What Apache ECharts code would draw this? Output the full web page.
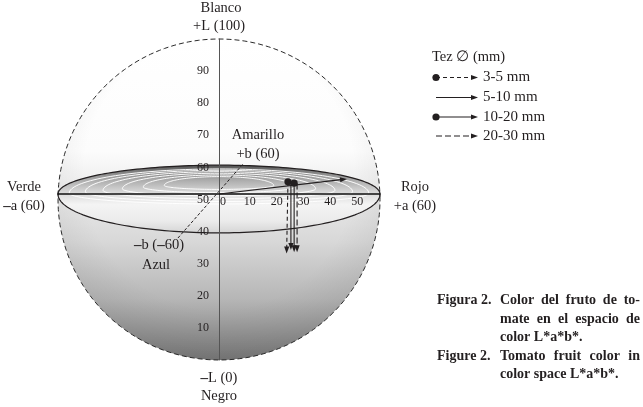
<!DOCTYPE html>
<html>
<head>
<meta charset="utf-8">
<script src="https://cdn.jsdelivr.net/npm/echarts@6/dist/echarts.min.js"></script>
<style>
html, body { margin: 0; padding: 0; background: #fff; }
#chart { width: 643px; height: 407px; }
</style>
</head>
<body>
<div id="chart"></div>
<script>
// tick labels: L* on the vertical axis, a* along the equator
const lTicks = [10, 20, 30, 40, 50, 60, 70, 80, 90];
const aTicks = [0, 10, 20, 30, 40, 50];

// fruit size classes (Tez diameter) and their colour shift, [a*, L*]
const sizeClasses = ['3-5 mm', '5-10 mm', '10-20 mm', '20-30 mm'];
const arrowStart = [[25.7, 55.5], [26.8, 55.2], [28.0, 55.1], [29.1, 55.0]];
const arrowEnd = [[25.2, 33.2], [26.8, 34.3], [28.0, 33.6], [29.1, 33.6]];
// hue arrow in the a*b* plane
const hueArrow = [[0, 51.7], [47.7, 56.4]];

const INK = '#231f20';
const SERIF = '"Liberation Serif", "DejaVu Serif", serif';

// sphere drawn in data units
const SPHERE = { a: 60, lMid: 50, lHalf: 50 };
const EQUATOR = { l: 51.7, back: 9, front: 12.1 };
const B_AXIS = [[-15.3, 38.0], [9.3, 61.4]];

const GRID_W = 322;

const classStyle = [
    { dash: [4, 3], dot: true },
    { dash: null, dot: false },
    { dash: null, dot: true },
    { dash: [6, 3], dot: false }
];

function ringPoints(cx, cy, rx, ryBack, ryFront, n) {
    const pts = [];
    for (let i = 0; i < n; i++) {
        const t = i / n * Math.PI * 2;
        const s = Math.sin(t);
        pts.push([cx + rx * Math.cos(t), cy - s * (s > 0 ? ryBack : ryFront)]);
    }
    return pts;
}

function arrowShapes(x1, y1, x2, y2, st) {
    const dx = x2 - x1, dy = y2 - y1;
    const len = Math.sqrt(dx * dx + dy * dy);
    const ux = dx / len, uy = dy / len;
    const hl = 7, hw = 2.6;
    const bx = x2 - ux * hl, by = y2 - uy * hl;
    const lineStyle = { stroke: INK, lineWidth: 1.1 };
    if (st.dash) lineStyle.lineDash = st.dash;
    const kids = [
        { type: 'line', shape: { x1: x1, y1: y1, x2: bx + ux, y2: by + uy }, style: lineStyle },
        { type: 'polygon', shape: { points: [[x2, y2], [bx - uy * hw, by + ux * hw], [bx + uy * hw, by - ux * hw]] }, style: { fill: INK } }
    ];
    if (st.dot) kids.push({ type: 'circle', shape: { cx: x1, cy: y1, r: 3.6 }, style: { fill: INK } });
    return kids;
}

function renderSphere(params, api) {
    const c = api.coord([0, SPHERE.lMid]);
    const rx = api.size([SPHERE.a, 0])[0];
    const ry = api.size([0, SPHERE.lHalf])[1];
    const outline = ringPoints(c[0], c[1], rx, ry, ry, 200);
    const e = api.coord([0, EQUATOR.l]);
    const back = api.size([0, EQUATOR.back])[1];
    const front = api.size([0, EQUATOR.front])[1];
    const disc = ringPoints(e[0], e[1], rx, back, front, 200);
    const b0 = api.coord(B_AXIS[0]);
    const b1 = api.coord(B_AXIS[1]);

    const rings = [0.93, 0.83, 0.72, 0.6, 0.47, 0.34].map(function (s) {
        return {
            type: 'polygon',
            shape: { points: ringPoints(e[0], e[1] - back * (1 - s) * 0.45, rx * s, back * s * 0.9, front * s * 0.3, 140) },
            style: { fill: 'none', stroke: 'rgba(255,255,255,0.95)', lineWidth: 1 }
        };
    });

    return {
        type: 'group',
        children: [
            {
                type: 'polygon', shape: { points: outline },
                style: {
                    fill: new echarts.graphic.LinearGradient(0, 0, 0, 1, [
                        { offset: 0, color: '#ffffff' },
                        { offset: 0.35, color: '#fcfcfc' },
                        { offset: 0.48, color: '#eaeaea' },
                        { offset: 0.63, color: '#d8d8d8' },
                        { offset: 0.81, color: '#b6b6b6' },
                        { offset: 1, color: '#7a7a7a' }
                    ])
                }
            },
            {
                type: 'polygon', shape: { points: outline },
                style: {
                    fill: new echarts.graphic.RadialGradient(0.5, 0.42, 0.6, [
                        { offset: 0, color: 'rgba(0,0,0,0)' },
                        { offset: 0.7, color: 'rgba(0,0,0,0)' },
                        { offset: 1, color: 'rgba(0,0,0,0.08)' }
                    ])
                }
            },
            {
                type: 'polygon', shape: { points: disc },
                style: {
                    fill: new echarts.graphic.LinearGradient(0, 0, 0, 1, [
                        { offset: 0, color: '#474747' },
                        { offset: 0.08, color: '#777777' },
                        { offset: 0.22, color: '#aaaaaa' },
                        { offset: 0.4, color: '#d8d8d8' },
                        { offset: 0.58, color: '#f4f4f4' },
                        { offset: 0.82, color: '#ebebeb' },
                        { offset: 1, color: '#d4d4d4' }
                    ]),
                    stroke: INK, lineWidth: 1.2
                }
            }
        ].concat(rings).concat([
            { type: 'line', shape: { x1: b0[0], y1: b0[1], x2: b1[0], y2: b1[1] }, style: { stroke: INK, lineWidth: 1, lineDash: [3, 2] } },
            { type: 'polygon', shape: { points: outline }, style: { fill: 'none', stroke: '#2a2a2a', lineWidth: 1, lineDash: [5, 3] } }
        ])
    };
}

function renderArrow(params, api) {
    const p0 = api.coord([api.value(0), api.value(1)]);
    const p1 = api.coord([api.value(2), api.value(3)]);
    const st = params.dataIndex < classStyle.length ? classStyle[params.dataIndex] : { dash: null, dot: false };
    return { type: 'group', children: arrowShapes(p0[0], p0[1], p1[0], p1[1], st) };
}

const arrowData = sizeClasses.map(function (name, i) {
    return { name: name, value: [arrowStart[i][0], arrowStart[i][1], arrowEnd[i][0], arrowEnd[i][1]] };
});
arrowData.push({ name: 'hue', value: [hueArrow[0][0], hueArrow[0][1], hueArrow[1][0], hueArrow[1][1]] });

// text around the sphere (bold dash for the minus signs, as printed)
const richMinus = { m: { fontWeight: 'bold', fontSize: 15, fontFamily: SERIF, color: INK } };
const sphereLabels = [
    ['Blanco', 221, 8], ['+L (100)', 219, 26],
    ['{m|–}L (0)', 219, 378], ['Negro', 219, 396],
    ['Verde', 24, 187], ['{m|–}a (60)', 24, 206],
    ['Rojo', 415, 187], ['+a (60)', 415, 206],
    ['Amarillo', 258, 135], ['+b (60)', 258, 154],
    ['{m|–}b ({m|–}60)', 159, 245], ['Azul', 156, 265]
];
const graphics = sphereLabels.map(function (l) {
    return {
        type: 'text', x: l[1], y: l[2], z: 30,
        style: {
            text: l[0], fill: INK, fontSize: 14.5, fontFamily: SERIF,
            align: 'center', verticalAlign: 'middle', textAlign: 'center', textVerticalAlign: 'middle',
            rich: richMinus
        }
    };
});

// legend
graphics.push({
    type: 'text', x: 432, y: 57, z: 30,
    style: { text: 'Tez ∅ (mm)', fill: INK, fontSize: 14.5, fontFamily: SERIF, align: 'left', verticalAlign: 'middle', textVerticalAlign: 'middle' }
});
const legendRowsY = [77.5, 97.5, 117, 136];
sizeClasses.forEach(function (name, i) {
    const y = legendRowsY[i];
    graphics.push({ type: 'group', z: 30, children: arrowShapes(436, y, 478, y, classStyle[i]) });
    graphics.push({
        type: 'text', x: 483, y: y, z: 30,
        style: { text: name, fill: INK, fontSize: 15, fontFamily: SERIF, align: 'left', verticalAlign: 'middle', textVerticalAlign: 'middle' }
    });
});

// caption, justified like the printed figure
const capFont = 'bold 14px "Liberation Serif"';
const measure = document.createElement('canvas').getContext('2d');
function captionLine(text, x0, x1, y, justify) {
    measure.font = capFont;
    const words = text.split(' ');
    if (!justify || words.length < 2) {
        return [{ type: 'text', x: x0, y: y, z: 30, style: { text: text, font: capFont, fill: INK, align: 'left', verticalAlign: 'middle', textVerticalAlign: 'middle' } }];
    }
    const widths = words.map(function (w) { return measure.measureText(w).width; });
    const gap = (x1 - x0 - widths.reduce(function (s, w) { return s + w; }, 0)) / (words.length - 1);
    let x = x0;
    return words.map(function (w, i) {
        const el = { type: 'text', x: x, y: y, z: 30, style: { text: w, font: capFont, fill: INK, align: 'left', verticalAlign: 'middle', textVerticalAlign: 'middle' } };
        x += widths[i] + gap;
        return el;
    });
}
const captionLines = [
    ['Figura 2.', 'Color del fruto de to-', true],
    ['', 'mate en el espacio de', true],
    ['', 'color L*a*b*.', false],
    ['Figure 2.', 'Tomato fruit color in', true],
    ['', 'color space L*a*b*.', false]
];
const captionY = [300, 319, 337.5, 356, 374];
captionLines.forEach(function (c, i) {
    if (c[0]) {
        graphics.push({ type: 'text', x: 437, y: captionY[i], z: 30, style: { text: c[0], font: capFont, fill: INK, align: 'left', verticalAlign: 'middle', textVerticalAlign: 'middle' } });
    }
    captionLine(c[1], 500, 640, captionY[i], c[2]).forEach(function (el) { graphics.push(el); });
});

const chart = echarts.init(document.getElementById('chart'));
const option = {
    animation: false,
    backgroundColor: '#fff',
    grid: [
        { left: 58, top: 39, width: GRID_W, height: 321 },
        { left: 58, top: 39, width: GRID_W, height: 155 }
    ],
    xAxis: [
        { gridIndex: 0, type: 'value', min: -60, max: 60, show: false },
        {
            gridIndex: 1, type: 'value', min: -60, max: 60, interval: 10, z: 10,
            axisLine: { show: true, onZero: false, lineStyle: { color: '#111', width: 1.5 } },
            axisTick: { show: false },
            splitLine: { show: false },
            axisLabel: {
                margin: 2, fontSize: 12, fontFamily: SERIF, color: INK, padding: [0, 0, 0, 8],
                formatter: function (v) { return aTicks.indexOf(v) >= 0 ? String(v) : ''; }
            }
        }
    ],
    yAxis: [
        {
            // L* axis runs through the centre of the sphere
            gridIndex: 0, type: 'value', min: 0, max: 100, interval: 10, z: 10,
            position: 'left', offset: -GRID_W / 2,
            axisLine: { show: true, onZero: false, lineStyle: { color: '#555', width: 1 } },
            axisTick: { show: false },
            splitLine: { show: false },
            axisLabel: {
                margin: 10, fontSize: 12, fontFamily: SERIF, color: INK,
                formatter: function (v) { return lTicks.indexOf(v) >= 0 ? String(v) : ''; }
            }
        },
        { gridIndex: 1, type: 'value', min: 0, max: 1, show: false }
    ],
    series: [
        {
            type: 'custom', xAxisIndex: 0, yAxisIndex: 0, z: 1, silent: true, clip: false,
            data: [[0, SPHERE.lMid]],
            renderItem: renderSphere
        },
        {
            type: 'custom', xAxisIndex: 0, yAxisIndex: 0, z: 20, silent: true, clip: false,
            data: arrowData,
            renderItem: renderArrow
        }
    ],
    graphic: graphics
};
chart.setOption(option);
</script>
</body>
</html>
